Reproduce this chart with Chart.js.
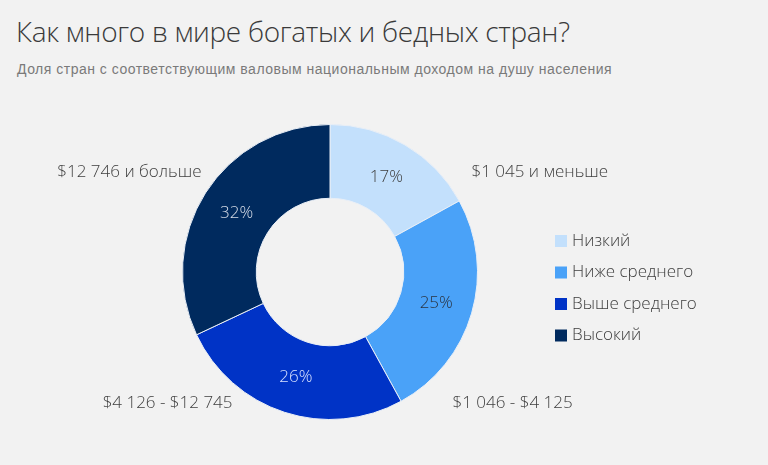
<!DOCTYPE html>
<html>
<head>
<meta charset="utf-8">
<script src="https://cdn.jsdelivr.net/npm/chart.js@4"></script>
<style>
  body { margin: 0; background: #f2f2f2; }
  #wrap { position: relative; width: 768px; height: 465px; overflow: hidden; }
  #title { position: absolute; left: 16px; top: 12px; font-family: "Open Sans", sans-serif; font-weight: 300; font-size: 28px; letter-spacing: -0.3px; color: #3a3a3a; white-space: nowrap; }
  #subtitle { position: absolute; left: 17px; top: 61px; font-family: "Liberation Sans", Arial, sans-serif; font-size: 14px; letter-spacing: 0.5px; color: #7a7a7a; white-space: nowrap; }
  canvas { position: absolute; left: 0; top: 0; }
</style>
</head>
<body>
<div id="wrap">
  <div id="title">Как много в мире богатых и бедных стран?</div>
  <div id="subtitle">Доля стран с соответствующим валовым национальным доходом на душу населения</div>
  <canvas id="incomeChart" width="768" height="465"></canvas>
</div>
<script>
const groups = ["Низкий", "Ниже среднего", "Выше среднего", "Высокий"];
const shares = [17, 25, 26, 32];
const incomeRanges = ["$1 045 и меньше", "$1 046 - $4 125", "$4 126 - $12 745", "$12 746 и больше"];
const colors = ["#c3e0fc", "#4aa2f8", "#0033c6", "#002a5e"];
const pctColors = ["#3d3d3d", "#2a3340", "#d8e2ff", "#d6dde8"];

const labelFont = '300 17px "Open Sans", sans-serif';

// подписи: проценты внутри сектора, диапазоны дохода по углам
const sliceLabels = {
    id: "sliceLabels",
    afterDatasetsDraw(chart) {
        const ctx = chart.ctx;
        const arcs = chart.getDatasetMeta(0).data;
        ctx.save();
        ctx.font = labelFont;
        ctx.textBaseline = "middle";
        arcs.forEach((arc, i) => {
            const p = arc.tooltipPosition();
            ctx.fillStyle = pctColors[i];
            ctx.textAlign = "center";
            ctx.fillText(shares[i] + "%", p.x, p.y);
        });
        const a = arcs[0];
        const R = a.outerRadius;
        const spots = [
            { x: a.x + R - 6, y: a.y - 100, align: "left" },
            { x: a.x + R - 25, y: a.y + 131, align: "left" },
            { x: a.x - R + 50, y: a.y + 131, align: "right" },
            { x: a.x - R + 19, y: a.y - 100, align: "right" }
        ];
        ctx.fillStyle = "#404040";
        spots.forEach((s, i) => {
            ctx.textAlign = s.align;
            ctx.fillText(incomeRanges[i], s.x, s.y);
        });

        // легенда справа
        const lx = 555, ly = 241, step = 31.5;
        groups.forEach((g, i) => {
            const y = ly + i * step;
            ctx.fillStyle = colors[i];
            ctx.fillRect(lx, y - 6, 12, 12);
            ctx.fillStyle = "#404040";
            ctx.textAlign = "left";
            ctx.fillText(g, lx + 17, y);
        });
        ctx.restore();
    }
};

const ctx = document.getElementById("incomeChart").getContext("2d");
new Chart(ctx, {
    type: "doughnut",
    data: {
        labels: groups,
        datasets: [{
            data: shares,
            backgroundColor: colors,
            borderColor: "#e8eef6",
            borderWidth: 1
        }]
    },
    options: {
        responsive: false,
        animation: false,
        cutout: "50%",
        layout: {
            padding: { top: 124, bottom: 45, left: 182, right: 290 }
        },
        plugins: {
            legend: { display: false },
            tooltip: { enabled: false }
        }
    },
    plugins: [sliceLabels]
});
</script>
</body>
</html>
